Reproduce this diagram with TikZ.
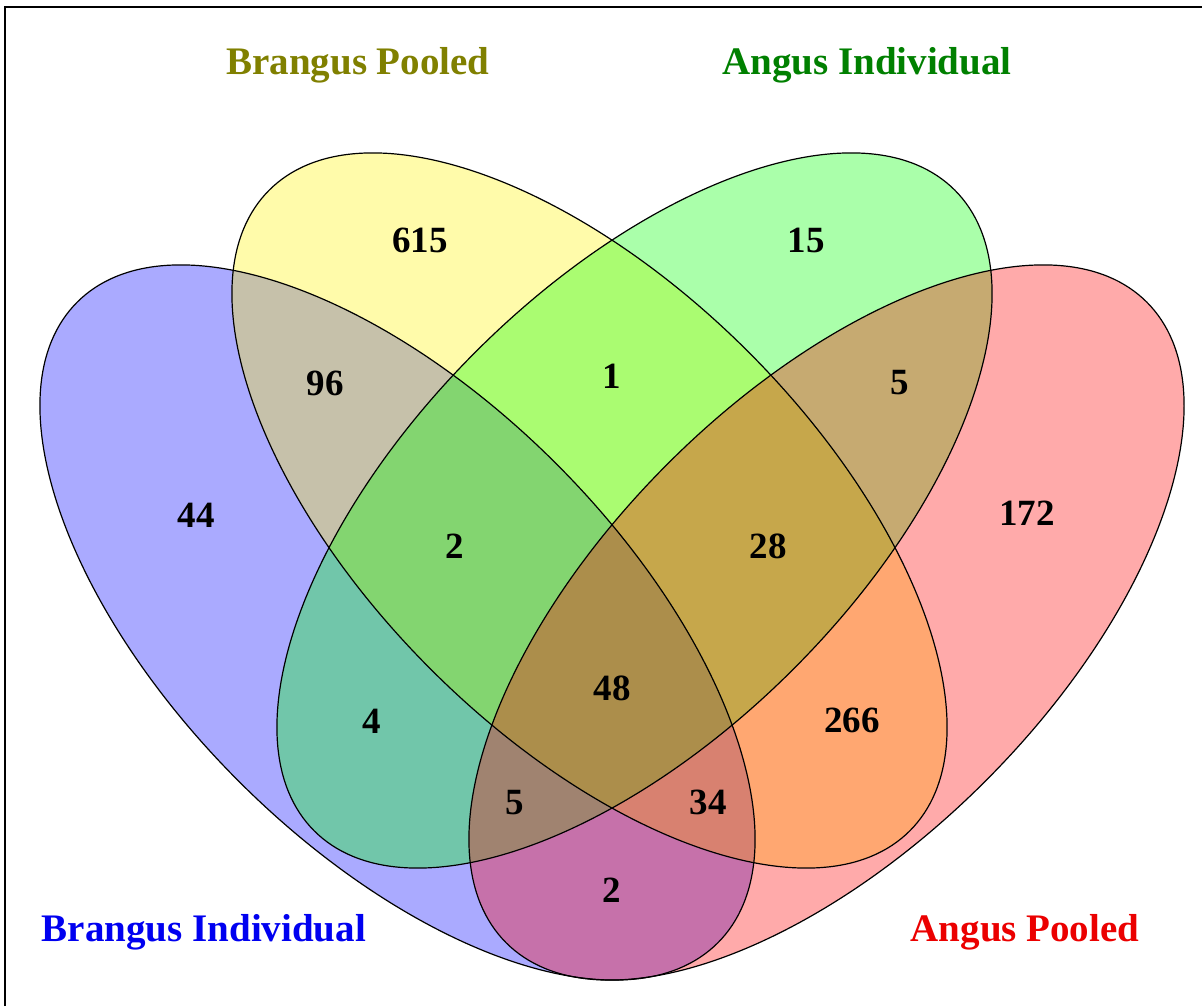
\documentclass[tikz,border=0pt]{standalone}
\usepackage{fontspec}
\setmainfont{Liberation Serif}
\tikzset{
	set/.style={fill opacity=0.333},
	rim/.style={draw=black,line width=0.6pt},
	count/.style={font=\fontsize{18.5}{20}\selectfont\bfseries},
	title/.style={font=\fontsize{19.5}{22}\selectfont\bfseries}
}
\definecolor{olivetitle}{RGB}{128,128,0}
\definecolor{greentitle}{RGB}{0,128,0}
\definecolor{bluetitle}{RGB}{0,0,240}
\definecolor{redtitle}{RGB}{235,0,0}

\begin{document}
\begin{tikzpicture}[x=0.5pt,y=0.5pt]
\useasboundingbox (0,0) rectangle (1202,1006);
\draw[line width=1pt] (5,0) -- (5,999) -- (1202,999);
%centres of the four sets
\coordinate (bi) at (397.5,383.5);
\coordinate (bp) at (589.5,495.5);
\coordinate (ai) at (634.5,495.5);
\coordinate (ap) at (826.5,383.5);
%
\fill[set,blue] (bi) ellipse [x radius=453,y radius=224.5,rotate=-45];
\fill[set,yellow] (bp) ellipse [x radius=453,y radius=224.5,rotate=-45];
\fill[set,green] (ai) ellipse [x radius=453,y radius=224.5,rotate=45];
\fill[set,red] (ap) ellipse [x radius=453,y radius=224.5,rotate=45];
\draw[rim] (bi) ellipse [x radius=453,y radius=224.5,rotate=-45];
\draw[rim] (bp) ellipse [x radius=453,y radius=224.5,rotate=-45];
\draw[rim] (ai) ellipse [x radius=453,y radius=224.5,rotate=45];
\draw[rim] (ap) ellipse [x radius=453,y radius=224.5,rotate=45];
%
\begin{scope}[every node/.style=count]
\node (n615) at (420,766) {615};
\node (n15) at (806,766) {15};
\node (n96) at (325,623) {96};
\node (n1) at (612,630) {1};
\node (n5a) at (900,623) {5};
\node (n44) at (196,491) {44};
\node (n2a) at (455,460) {2};
\node (n28) at (768,460) {28};
\node (n172) at (1027,493) {172};
\node (n48) at (612,318) {48};
\node (n4) at (372,285) {4};
\node (n266) at (852,286) {266};
\node (n5b) at (515,203) {5};
\node (n34) at (708,204) {34};
\node (n2b) at (612,116) {2};
\end{scope}
%
\node[title,olivetitle] (tbp) at (358,941) {Brangus Pooled};
\node[title,greentitle] (tai) at (867,941) {Angus Individual};
\node[title,bluetitle] (tbi) at (204,74) {Brangus Individual};
\node[title,redtitle] (tap) at (1025,74) {Angus Pooled};
\end{tikzpicture}
\end{document}
